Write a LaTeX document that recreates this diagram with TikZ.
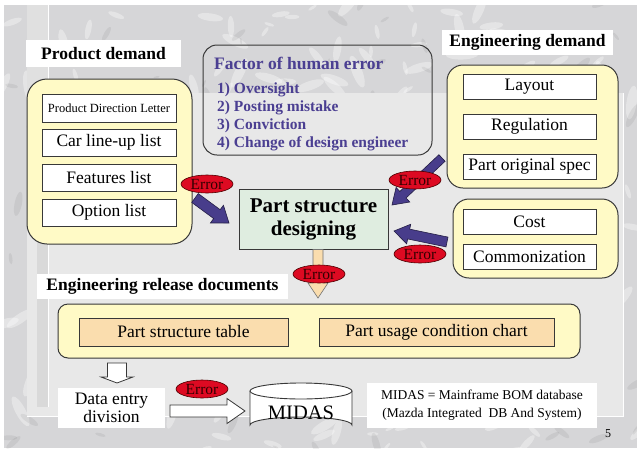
\documentclass[tikz,border=0pt]{standalone}
\usepackage{fontspec}
\setmainfont{Liberation Serif}
\usetikzlibrary{calc,shapes.geometric}
\definecolor{marble}{HTML}{D6D6D8}
\definecolor{panel}{HTML}{E8E8E8}
\definecolor{ylw}{HTML}{FFFAC6}
\definecolor{grn}{HTML}{DFEDE0}
\definecolor{org}{HTML}{FADDAE}
\definecolor{blu}{HTML}{483D8B}
\definecolor{fac}{HTML}{4B3F92}
\definecolor{errred}{HTML}{DD0A22}
\definecolor{edge}{HTML}{383838}
\newcommand\myfs[1]{\fontsize{#1}{#1}\selectfont}
% fat arrow: #1 start, #2 tip, #3 shaft half width, #4 head half width, #5 head length, #6 style
\newcommand\fatarrow[6]{%
  \coordinate (faC) at ($(#2)!#5!(#1)$);
  \draw[#6] ($(#1)!#3!90:(#2)$) -- ($(faC)!#3!-90:(#1)$) -- ($(faC)!#4!-90:(#1)$) -- (#2)
    -- ($(faC)!#4!90:(#1)$) -- ($(faC)!#3!90:(#1)$) -- ($(#1)!#3!-90:(#2)$) -- cycle;}
\tikzset{
  lbl/.style={fill=white, inner sep=0pt, font=\myfs{17.5}\bfseries},
  ybox/.style={draw=edge, fill=ylw, line width=1pt},
  ibox/.style={draw=edge, fill=white, line width=0.9pt, inner sep=0pt, font=\myfs{17.5}},
  obox/.style={draw=edge, fill=org, line width=0.9pt, inner sep=0pt, font=\myfs{17.5},
    minimum height=28pt},
  errell/.style={ellipse, draw=black!70!red, fill=errred, line width=0.6pt, inner sep=0pt,
    minimum width=52pt, minimum height=18pt,
    label={[font=\myfs{15.5}, text=black!80!red, inner sep=0pt]center:Error}},
  bluarr/.style={fill=blu, draw=blu!50!black, line width=0.6pt},
  facitem/.style={anchor=west, inner sep=0pt, text=fac, font=\myfs{15.5}\bfseries},
}
\begin{document}
\begin{tikzpicture}[x=1pt,y=-1pt]
\useasboundingbox (0,0) rectangle (637,448);
\fill[white] (0,0) rectangle (637,448);
% marble background
\begin{scope}
  \clip (4,5) rectangle (637,448);
  \fill[marble] (4,5) rectangle (637,448);
  \pgfmathsetseed{7}
  \foreach \i in {1,...,220}{
    \pgfmathsetmacro\px{rnd*640}
    \pgfmathsetmacro\py{rnd*450}
    \pgfmathsetmacro\rr{rnd*180}
    \pgfmathsetmacro\sz{4+rnd*14}
    \fill[white, opacity=0.35, rotate around={\rr:(\px,\py)}] (\px,\py) ellipse ({\sz} and {\sz*0.3});
  }
  \foreach \i in {1,...,120}{
    \pgfmathsetmacro\px{rnd*640}
    \pgfmathsetmacro\py{rnd*450}
    \pgfmathsetmacro\rr{rnd*180}
    \pgfmathsetmacro\sz{3+rnd*10}
    \fill[black, opacity=0.06, rotate around={\rr:(\px,\py)}] (\px,\py) ellipse ({\sz} and {\sz*0.3});
  }
\end{scope}
% panel and strip
\fill[panel] (27,93) rectangle (623,416);
\draw[white, line width=0.8pt] (623,93) -- (623,416) -- (27,416);
\fill[black!12] (27,5) rectangle (48,93);
\fill[black!15] (37,93) rectangle (48,407);
\draw[white, line width=0.6pt] (48,5) -- (48,407);

% Product demand
\node[lbl, minimum width=155pt, minimum height=27pt] (pdl) at (103.5,53.5) {Product demand};
\node[ybox, rounded corners=20pt, minimum width=165pt, minimum height=165pt] (pd) at (109.5,161.5) {};
\node[ibox, minimum width=134pt, minimum height=28pt, font=\myfs{12.5}] (pdlet) at (109,108) {Product Direction Letter};
\node[ibox, minimum width=134pt, minimum height=27pt] (car) at (109,142.5) {Car line-up list};
\node[ibox, minimum width=134pt, minimum height=27pt] (feat) at (109,177.5) {Features list};
\node[ibox, minimum width=134pt, minimum height=27pt] (opt) at (109,212.5) {Option list};

% Factor of human error
\node[draw=edge, rounded corners=14pt, line width=1pt, minimum width=229pt, minimum height=110pt] (fac) at (317.5,100) {};
\node[facitem, font=\myfs{17.5}\bfseries] (ft) at (214,63) {Factor of human error};
\node[facitem] (f1) at (217,90) {1) Oversight};
\node[facitem] (f2) at (217,108) {2) Posting mistake};
\node[facitem] (f3) at (217,126) {3) Conviction};
\node[facitem] (f4) at (217,144) {4) Change of design engineer};

% Engineering demand
\node[lbl, minimum width=171pt, minimum height=25pt] (edl) at (527.5,42.5) {Engineering demand};
\node[ybox, rounded corners=16pt, minimum width=171pt, minimum height=123pt] (ed1) at (532.5,126.5) {};
\node[ibox, minimum width=133pt, minimum height=25pt] (lay) at (529.5,86.5) {Layout};
\node[ibox, minimum width=133pt, minimum height=25pt] (reg) at (529.5,126.5) {Regulation};
\node[ibox, minimum width=133pt, minimum height=25pt] (pos) at (529.5,166.5) {Part original spec};
\node[ybox, rounded corners=16pt, minimum width=165pt, minimum height=79pt] (ed2) at (535.5,238.5) {};
\node[ibox, minimum width=133pt, minimum height=25pt] (cost) at (529.5,221.5) {Cost};
\node[ibox, minimum width=133pt, minimum height=25pt] (com) at (529.5,256.5) {Commonization};

% Part structure designing
\node[draw=edge, fill=grn, line width=0.9pt, minimum width=149pt, minimum height=60pt, inner sep=0pt,
  align=center, font=\fontsize{21}{23}\selectfont\bfseries] (psd) at (313.5,219) {Part structure\\designing};

% arrows into psd
\coordinate (a1s) at (195,198); \coordinate (a1t) at (229,223);
\coordinate (a2s) at (442,158); \coordinate (a2t) at (392,205);
\coordinate (a3s) at (447,242); \coordinate (a3t) at (394,231);
\fatarrow{a1s}{a1t}{5.5pt}{11pt}{15pt}{bluarr}
\fatarrow{a2s}{a2t}{4.5pt}{10pt}{15pt}{bluarr}
\fatarrow{a3s}{a3t}{5pt}{10pt}{15pt}{bluarr}

% down arrow to release documents
\coordinate (a4s) at (318,249.5); \coordinate (a4t) at (318,298);
\fatarrow{a4s}{a4t}{5pt}{10pt}{15pt}{fill=org, draw=black!55, line width=0.6pt}

% Engineering release documents
\node[lbl, minimum width=251pt, minimum height=25pt] (erl) at (162.5,286.5) {Engineering release documents};
\node[ybox, rounded corners=10pt, minimum width=522pt, minimum height=54pt] (erd) at (319,331) {};
\node[obox, minimum width=209pt] (pst) at (183.5,332) {Part structure table};
\node[obox, minimum width=235pt] (puc) at (436.5,332) {Part usage condition chart};

% data entry
\coordinate (a5s) at (117,363); \coordinate (a5t) at (117,383);
\fatarrow{a5s}{a5t}{9.5pt}{16pt}{6pt}{fill=white, draw=edge, line width=0.8pt}
\node[fill=white, inner sep=0pt, minimum width=107pt, minimum height=40pt, align=center,
  font=\fontsize{17.5}{18.5}\selectfont] (de) at (111.5,408) {Data entry\\division};
\coordinate (a6s) at (170,411); \coordinate (a6t) at (245,411);
\fatarrow{a6s}{a6t}{6pt}{12.5pt}{18pt}{fill=white, draw=edge, line width=0.8pt}

% MIDAS cylinder
\draw[fill=white, draw=edge, line width=0.9pt] (250,391) -- (250,425) arc[start angle=180, end angle=360, x radius=51, y radius=8] -- (352,391);
\draw[fill=white, draw=edge, line width=0.9pt] (301,391) ellipse (51 and 8);
\node[inner sep=0pt, font=\myfs{20.5}] (midas) at (301,413) {MIDAS};

% note
\node[fill=white, inner sep=0pt, minimum width=230pt, minimum height=45pt, align=center,
  font=\fontsize{13.5}{18}\selectfont] (note) at (482,405.5) {MIDAS = Mainframe BOM database\\(Mazda Integrated~ DB And System)};

% Error ellipses
\node[errell] (e1) at (207,184) {};
\node[errell] (e2) at (415,180) {};
\node[errell] (e3) at (420,254) {};
\node[errell] (e4) at (319,274) {};
\node[errell] (e5) at (202,389) {};

% page number
\node[inner sep=0pt, font=\myfs{12}] (pg) at (608,434) {5};
\end{tikzpicture}
\end{document}
